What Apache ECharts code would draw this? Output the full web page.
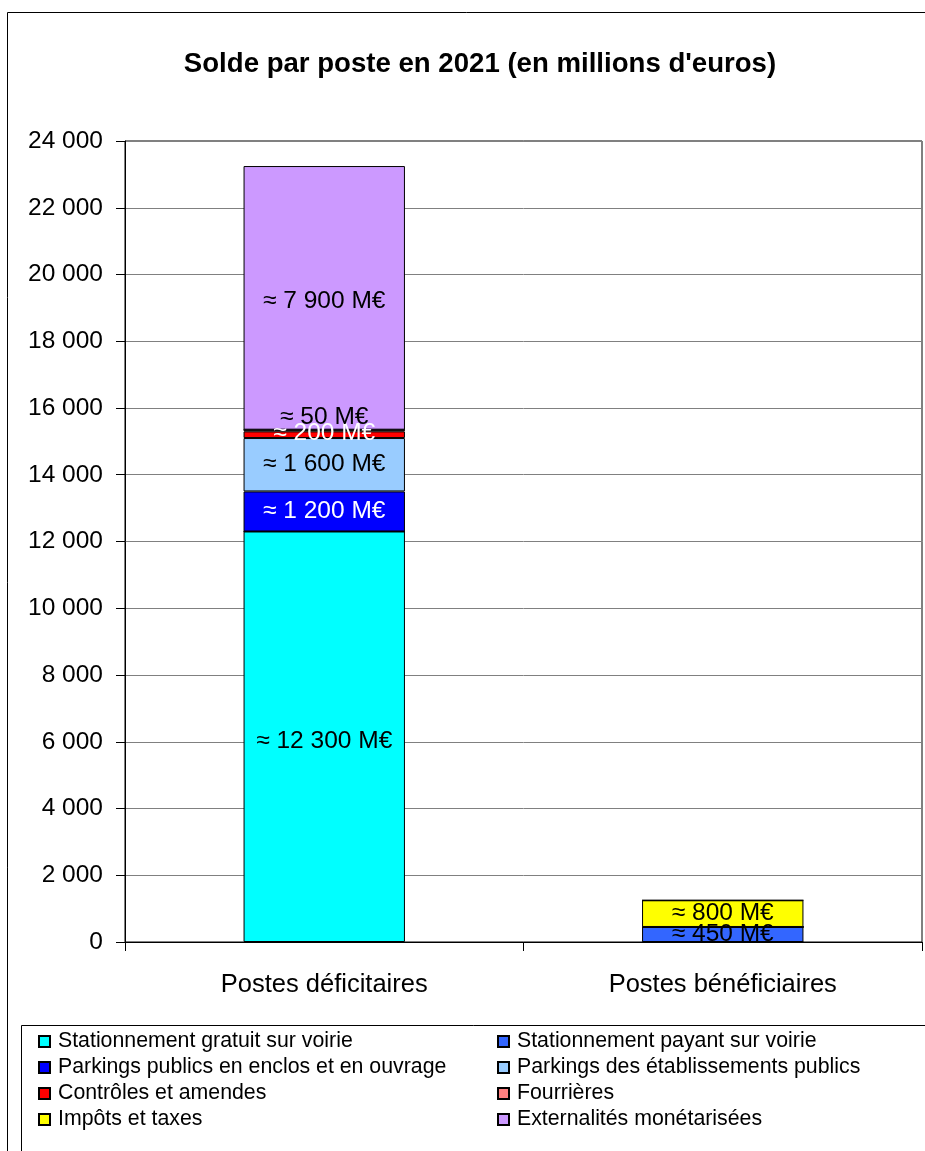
<!DOCTYPE html>
<html><head><meta charset="utf-8">
<script src="https://cdn.jsdelivr.net/npm/echarts@6/dist/echarts.min.js"></script>
<style>html,body{margin:0;padding:0;background:#fff}#c{width:925px;height:1151px}</style>
</head><body><div id="c"></div>
<script>
const categories = ['Postes déficitaires', 'Postes bénéficiaires'];
const seriesNames = ['Stationnement gratuit sur voirie','Stationnement payant sur voirie','Parkings publics en enclos et en ouvrage','Parkings des établissements publics','Contrôles et amendes','Fourrières','Impôts et taxes','Externalités monétarisées'];
const gratuit = [12300, 0];
const payant = [0, 450];
const parkingsPublics = [1200, 0];
const etablissements = [1600, 0];
const controles = [200, 0];
const fourrieres = [50, 0];
const impots = [0, 800];
const externalites = [7900, 0];
const yTicks = [0, 2000, 4000, 6000, 8000, 10000, 12000, 14000, 16000, 18000, 20000, 22000, 24000];

const values = [gratuit, payant, parkingsPublics, etablissements, controles, fourrieres, impots, externalites];
const colors = ['#00FFFF','#3366FF','#0000FF','#99CCFF','#FF0000','#FF8080','#FFFF00','#CC99FF'];
const labelColors = ['#000','#000','#fff','#000','#fff','#000','#000','#000'];
const labelOffsets = [[0,5],[0,0],[0,0],[0,0],[0,-1],[0,-13],[0,0],[0,3]];
const FONT = 'Liberation Sans';
function fmt(v){ return String(v).replace(/\B(?=(\d{3})+(?!\d))/g, ' '); }

const series = seriesNames.map((name, i) => ({
  name: name, type: 'bar', stack: 'total', barWidth: '40.5%',
  itemStyle: { color: colors[i], borderColor: '#000', borderWidth: 1 },
  label: {
    show: true, position: 'inside', color: labelColors[i], fontFamily: FONT, fontSize: 24.5,
    offset: labelOffsets[i],
    formatter: p => p.value ? '≈ ' + fmt(p.value) + ' M€' : ''
  },
  emphasis: { disabled: true },
  data: values[i]
}));

const chart = echarts.init(document.getElementById('c'), null, { renderer: 'canvas' });
chart.setOption({
  animation: false,
  backgroundColor: '#fff',
  title: {
    text: "Solde par poste en 2021 (en millions d'euros)",
    left: 475, top: 45, textAlign: 'center',
    textStyle: { fontFamily: FONT, fontWeight: 'bold', fontSize: 27.6, color: '#000' }
  },
  graphic: [
    { type: 'rect', shape: { x: 7.5, y: 12.5, width: 1000, height: 1200 }, style: { fill: 'none', stroke: '#000', lineWidth: 1 }, silent: true, z: -1 },
    { type: 'rect', shape: { x: 21.5, y: 1025.5, width: 1000, height: 200 }, style: { fill: 'none', stroke: '#000', lineWidth: 1 }, silent: true, z: -1 }
  ],
  grid: { left: 125, right: 3, top: 141, bottom: 209, show: true, borderColor: '#000', borderWidth: 1, backgroundColor: 'transparent' },
  legend: [
    { orient: 'vertical', left: 38, top: 1031, padding: 0, itemWidth: 11, itemHeight: 11, itemGap: 5, icon: 'rect',
      data: [seriesNames[0], seriesNames[2], seriesNames[4], seriesNames[6]],
      textStyle: { fontFamily: FONT, fontSize: 21.3, color: '#000', padding: [0,0,0,3] }, selectedMode: false },
    { orient: 'vertical', left: 497, top: 1031, padding: 0, itemWidth: 11, itemHeight: 11, itemGap: 5, icon: 'rect',
      data: [seriesNames[1], seriesNames[3], seriesNames[5], seriesNames[7]],
      textStyle: { fontFamily: FONT, fontSize: 21.3, color: '#000', padding: [0,0,0,3] }, selectedMode: false }
  ],
  xAxis: {
    type: 'category', data: categories,
    axisLine: { lineStyle: { color: '#000', width: 1 } },
    axisTick: { show: true, length: 9, lineStyle: { color: '#000' } },
    axisLabel: { fontFamily: FONT, fontSize: 25.5, color: '#000', margin: 30 }
  },
  yAxis: {
    type: 'value', min: yTicks[0], max: yTicks[yTicks.length-1], interval: yTicks[1]-yTicks[0],
    axisLine: { show: true, lineStyle: { color: '#000', width: 1 } },
    axisTick: { show: true, length: 9, lineStyle: { color: '#000' } },
    splitLine: { show: true, lineStyle: { color: '#808080', width: 1 } },
    axisLabel: { fontFamily: FONT, fontSize: 24.5, color: '#000', margin: 22, formatter: v => fmt(v) }
  },
  series: series
});
</script></body></html>
